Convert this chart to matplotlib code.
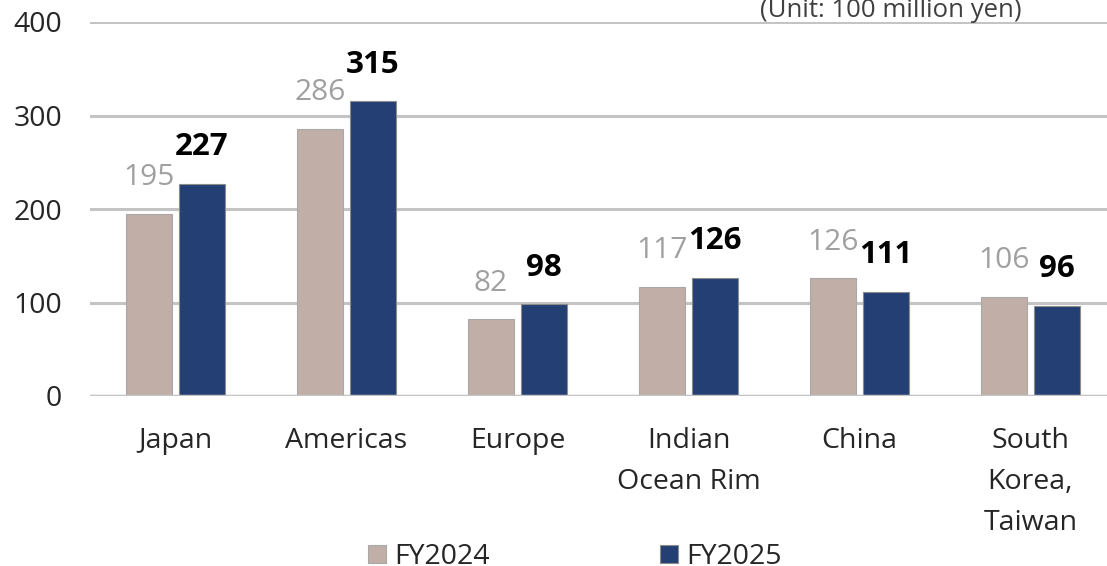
import matplotlib
matplotlib.use("Agg")
import matplotlib.pyplot as plt
import numpy as np

categories = ["Japan", "Americas", "Europe", "Indian\nOcean Rim", "China", "South\nKorea,\nTaiwan"]
fy2024 = [195, 286, 82, 117, 126, 106]
fy2025 = [227, 315, 98, 126, 111, 96]
series_names = ["FY2024", "FY2025"]
yticks = [0, 100, 200, 300, 400]

plt.rcParams['font.family'] = ['Open Sans', 'DejaVu Sans']

fig = plt.figure(figsize=(11.07, 5.66), dpi=100)
ax = fig.add_axes([90/1107, 1-396/566, 1026/1107, (396-22)/566])

x = np.arange(len(categories))
w = 0.265
off = 0.155
c1, c2 = '#C1AFA7', '#243F73'
b1 = ax.bar(x - off, fy2024, w, color=c1, edgecolor='#A8A8A8', linewidth=0.8, label=series_names[0], zorder=3)
b2 = ax.bar(x + off, fy2025, w, color=c2, edgecolor='#8C8C8C', linewidth=0.8, label=series_names[1], zorder=3)

for xi, v in zip(x - off, fy2024):
    ax.annotate(str(v), (xi, v), xytext=(0, 26), textcoords='offset points',
                ha='center', va='center', fontsize=21.5, color='#A0A0A0')
for xi, v in zip(x + off, fy2025):
    ax.annotate(str(v), (xi, v), xytext=(0, 26.5), textcoords='offset points',
                ha='center', va='center', fontsize=22.5, color='black', fontweight='bold')

ax.set_xlim(-0.5, len(categories) - 0.5)
ax.set_ylim(0, 400)
ax.set_yticks(yticks)
ax.yaxis.grid(True, color='#C4C4C4', linewidth=2.2, zorder=0)
ax.set_axisbelow(True)
for s in ax.spines.values():
    s.set_visible(False)
ax.axhline(0, color='#C4C4C4', linewidth=2.5, zorder=4)
ax.tick_params(axis='y', length=0, pad=20, labelsize=20.5, labelcolor='#262626')
ax.set_xticks(x)
ax.set_xticklabels(categories, linespacing=1.62)
ax.tick_params(axis='x', length=0, pad=22, labelsize=20.5, labelcolor='#262626')

fig.text(1022/1107, 1-17/566, "(Unit: 100 million yen)", ha='right', va='baseline',
         fontsize=18.5, color='#404040')

fig.legend(handles=[b1, b2], labels=series_names, loc='center', bbox_to_anchor=(575/1107, 1-557/566),
           ncol=2, frameon=False, fontsize=20.5, handlelength=0.6, handleheight=0.6,
           columnspacing=6.0, handletextpad=0.3, labelcolor='#262626')

fig.savefig("out.png", dpi=100)
